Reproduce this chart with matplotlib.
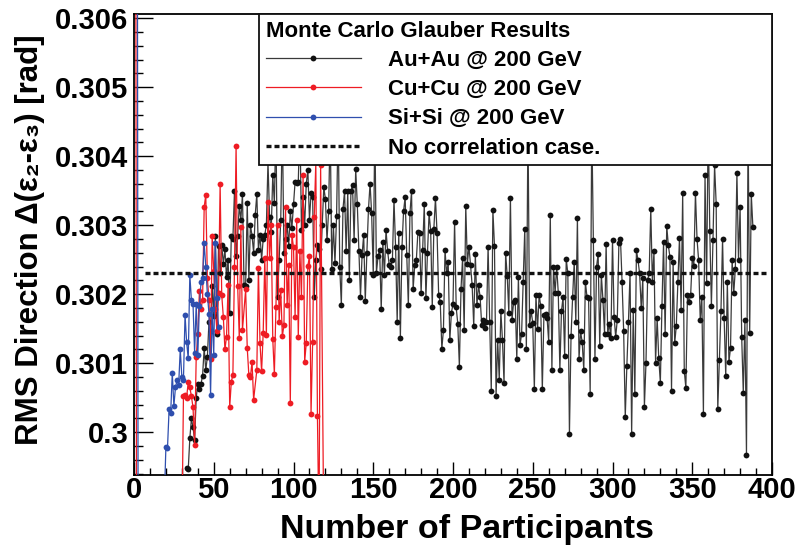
import numpy as np
import matplotlib
matplotlib.use('Agg')
import matplotlib.pyplot as plt
from matplotlib.ticker import MultipleLocator, FuncFormatter

plt.rcParams['font.family'] = ['Liberation Sans', 'DejaVu Sans']
plt.rcParams['font.weight'] = 'bold'

# ---------------- data ----------------
# Au+Au @ 200 GeV : segments of consecutive Npart values
au_seg1_start = 33
au_seg1 = [0.29948, 0.29946, 0.29991, 0.30020, 0.30007, 0.29989, 0.30050, 0.30070, 0.30063, 0.30070,
           0.30082, 0.30122, 0.30090, 0.30109, 0.30160, 0.30146, 0.30212, 0.30168, 0.30284, 0.30142,
           0.30270, 0.30230, 0.30271, 0.30244, 0.30265, 0.30225, 0.30250, 0.30173, 0.30285, 0.30280,
           0.30350, 0.30255, 0.30285, 0.30328, 0.30308, 0.30345, 0.30213, 0.30212, 0.30332, 0.30220,
           0.30300, 0.30285, 0.30260, 0.30315, 0.30345, 0.30264, 0.30286, 0.30250, 0.30280, 0.30286,
           0.30300, 0.30392, 0.30312, 0.30290, 0.30373, 0.30332, 0.30450, 0.30196, 0.30250, 0.30308,
           0.30450, 0.30260, 0.30280, 0.30300, 0.30270, 0.30320, 0.30296, 0.30330, 0.30363, 0.30361,
           0.30363, 0.30450, 0.30293, 0.30341, 0.30300, 0.30360, 0.30380, 0.30308, 0.30346, 0.30341,
           0.30196, 0.30250, 0.30271, 0.30266, 0.30237, 0.30300, 0.30355, 0.30338, 0.30278, 0.30320]
au_seg2_start = 123
au_seg2 = [0.30450, 0.30236, 0.30300, 0.30245, 0.30313, 0.30450, 0.30239, 0.30184, 0.30323, 0.30349,
           0.30262, 0.30349, 0.30221, 0.30349, 0.30358, 0.30278, 0.30381, 0.30330, 0.30263, 0.30196,
           0.30257, 0.30286, 0.30190, 0.30260, 0.30323, 0.30360, 0.30317, 0.30228, 0.30450, 0.30231,
           0.30255, 0.30264, 0.30178, 0.30275, 0.30228, 0.30293, 0.30263, 0.30242, 0.30240, 0.30249,
           0.30337, 0.30268, 0.30160, 0.30288, 0.30136, 0.30268, 0.30320, 0.30341, 0.30257, 0.30184,
           0.30317, 0.30349]
au_seg3_start = 175
au_seg3 = [0.30207, 0.30242, 0.30249, 0.30290, 0.30288, 0.30201, 0.30264, 0.30331, 0.30194, 0.30260,
           0.30317, 0.30292, 0.30181, 0.30295, 0.30339, 0.30289, 0.30199, 0.30189, 0.30121, 0.30148,
           0.30264, 0.30230, 0.30246, 0.30133, 0.30173, 0.30186, 0.30305, 0.30181, 0.30157, 0.30095,
           0.30207, 0.30252, 0.30148, 0.30328, 0.30244, 0.30269, 0.30242, 0.30213, 0.30154]
au_seg4_start = 214
au_seg4 = [0.30258, 0.30184, 0.30213, 0.30196, 0.30155, 0.30163, 0.30151, 0.30160, 0.30269, 0.30160,
           0.30059, 0.30322, 0.30270, 0.30052, 0.30134, 0.30076, 0.30175, 0.30134, 0.30071, 0.30260,
           0.30226, 0.30173, 0.30340, 0.30163, 0.30188, 0.30191, 0.30106, 0.30225, 0.30126, 0.30142,
           0.30217, 0.30295, 0.30120, 0.30450, 0.30155, 0.30176, 0.30158, 0.30062, 0.30199, 0.30149,
           0.30199, 0.30183, 0.30062, 0.30170, 0.30172, 0.30165, 0.30131, 0.30315, 0.30090, 0.30240,
           0.30202, 0.30240, 0.30202, 0.30090, 0.30175, 0.30196, 0.30110, 0.30251, 0.30230, 0.29997,
           0.30139, 0.30196, 0.30247, 0.30160, 0.30310, 0.30106, 0.30146, 0.30130, 0.30090, 0.30218,
           0.30196, 0.30194, 0.30056, 0.30450, 0.30278, 0.30106, 0.30240, 0.30258, 0.30125, 0.30228,
           0.30192, 0.30143, 0.30273, 0.30143, 0.30157, 0.30136, 0.30279, 0.30167, 0.30138, 0.30163,
           0.30274]
au_seg5_start = 305
au_seg5 = [0.30280, 0.30218, 0.30146, 0.30022, 0.30096, 0.30160, 0.30231, 0.29997, 0.30177, 0.30055,
           0.30264, 0.30249, 0.30230, 0.30180, 0.30223, 0.30037, 0.30101, 0.30221, 0.30230, 0.30324,
           0.30217, 0.30262, 0.30101, 0.30165, 0.30107, 0.30072, 0.30183, 0.30275, 0.30142, 0.30299,
           0.30271, 0.30254, 0.30060, 0.30246, 0.30129, 0.30154, 0.30217, 0.30282, 0.30177, 0.30346,
           0.30089, 0.30064, 0.30199, 0.30189, 0.30199, 0.30252, 0.30241, 0.30347, 0.30280, 0.30249,
           0.30163, 0.30196, 0.30026, 0.30373, 0.30216, 0.30450, 0.30291, 0.30183, 0.30279, 0.30387,
           0.30331, 0.30033, 0.30105, 0.30176, 0.30280, 0.30165, 0.30081, 0.30217, 0.30102, 0.30122,
           0.30250, 0.30201, 0.30236, 0.30376, 0.30250, 0.30326, 0.30138, 0.30057, 0.30162, 0.29967,
           0.30450, 0.30144, 0.30345, 0.30298]

# Cu+Cu @ 200 GeV
cu_npart = [1, 2, 30] + list(range(31, 69)) + list(range(70, 76)) + list(range(77, 118)) + [119]
cu_vals = [0.31000, 0.29000, 0.29850,
           0.30052, 0.30054, 0.30050, 0.30073, 0.30065, 0.30052, 0.30036, 0.29982, 0.30109, 0.30142,
           0.30204, 0.30178, 0.30192, 0.30326, 0.30344, 0.30223, 0.30192, 0.30106, 0.30284, 0.30233,
           0.30178, 0.30146, 0.30201, 0.30360, 0.30199, 0.30167, 0.30120, 0.30138, 0.30213, 0.30036,
           0.30073, 0.30083, 0.30240, 0.30415, 0.30212, 0.30136, 0.30297, 0.30148,
           0.30207, 0.30122, 0.30083, 0.30080, 0.30102, 0.30047,
           0.30090, 0.30238, 0.30129, 0.30088, 0.30144, 0.30253, 0.30141, 0.30333, 0.30252, 0.30300,
           0.30135, 0.30084, 0.30182, 0.30300, 0.30160, 0.30206, 0.30139, 0.30155, 0.30326, 0.30184,
           0.30242, 0.30042, 0.30286, 0.30268, 0.30167, 0.30307, 0.30138, 0.30262, 0.30196, 0.30373,
           0.30102, 0.30129, 0.30241, 0.30255, 0.30027, 0.30131, 0.30312, 0.30392, 0.30024, 0.29850,
           0.30387,
           0.29850]

# Si+Si @ 200 GeV
si_npart = [2, 3, 19] + list(range(20, 54))
si_vals = [0.31000, 0.29000, 0.29900,
           0.29979, 0.29977, 0.30033, 0.30028, 0.30086, 0.30038, 0.30065, 0.30075, 0.30069, 0.30120,
           0.30080, 0.30076, 0.30170, 0.30130, 0.30107, 0.30228, 0.30191, 0.30186, 0.30115, 0.30186,
           0.30112, 0.30183, 0.30217, 0.30224, 0.30274, 0.30240, 0.30200, 0.30172, 0.30054, 0.30178,
           0.30112, 0.30274, 0.30194, 0.30152]

nocorr_value = 0.3023
nocorr_range = [7, 397]

labels = ['Au+Au @ 200 GeV', 'Cu+Cu @ 200 GeV', 'Si+Si @ 200 GeV', 'No correlation case.']
legend_title = 'Monte Carlo Glauber Results'

au_npart = np.concatenate([np.arange(s, s + len(v)) for s, v in
                           [(au_seg1_start, au_seg1), (au_seg2_start, au_seg2), (au_seg3_start, au_seg3),
                            (au_seg4_start, au_seg4), (au_seg5_start, au_seg5)]])
au_vals = np.concatenate([au_seg1, au_seg2, au_seg3, au_seg4, au_seg5])

# ---------------- figure ----------------
W, H = 795, 545
fig = plt.figure(figsize=(W / 100, H / 100), dpi=100)
ax = fig.add_axes([134 / W, 70 / H, 638 / W, 461 / H])

RED = '#ee1c24'
BLUE = '#2f4fae'

l_au, = ax.plot(au_npart, au_vals, '-', color='#3a3a3a', lw=0.9, marker='o', ms=4.2,
                mfc='#111111', mec='#111111', mew=0, zorder=3)
l_cu, = ax.plot(cu_npart, cu_vals, '-', color=RED, lw=0.9, marker='o', ms=4.2,
                mfc=RED, mec=RED, mew=0, zorder=4)
l_si, = ax.plot(si_npart, si_vals, '-', color=BLUE, lw=0.9, marker='o', ms=4.2,
                mfc=BLUE, mec=BLUE, mew=0, zorder=5)
l_nc, = ax.plot(nocorr_range, [nocorr_value, nocorr_value], color='#111111', lw=2.4,
                dashes=(1.5, 0.9), zorder=6)

ax.set_xlim(0, 400)
ax.set_ylim(0.29938, 0.30606)

ax.xaxis.set_major_locator(MultipleLocator(50))
ax.xaxis.set_minor_locator(MultipleLocator(10))
ax.yaxis.set_major_locator(MultipleLocator(0.001))
ax.yaxis.set_minor_locator(MultipleLocator(0.0002))
ax.yaxis.set_major_formatter(FuncFormatter(lambda v, p: f'{round(v, 4):g}'))

ax.tick_params(axis='x', which='major', direction='in', length=9.5, width=1.0, labelsize=21, pad=1)
ax.tick_params(axis='x', which='minor', direction='in', length=5, width=1.0)
ax.tick_params(axis='y', which='major', direction='in', length=13.5, width=1.0, labelsize=21, pad=4)
ax.tick_params(axis='y', which='minor', direction='in', length=6.5, width=1.0)
for lab in ax.get_xticklabels() + ax.get_yticklabels():
    lab.set_fontweight('bold')
for sp in ax.spines.values():
    sp.set_linewidth(1.3)

fig.text(467 / W, 7 / H, 'Number of Participants', ha='center', va='baseline',
         fontsize=24.5, fontweight='bold')
fig.text(30 / W, (H - 240) / H, 'RMS Direction \u0394(\u03b5\u2082-\u03b5\u2083) [rad]',
         rotation=90, ha='center', va='center', fontsize=22.5, fontweight='bold')

leg = ax.legend([l_au, l_cu, l_si, l_nc], labels, title=legend_title,
                loc='upper left', bbox_to_anchor=((259 - 134) / 638, 0.0, (772 - 259) / 638, 1.0),
                mode='expand', borderaxespad=0, borderpad=0.3, labelspacing=0.37,
                handlelength=4.3, handletextpad=1.2, numpoints=1, fancybox=False,
                framealpha=1, edgecolor='#111111', facecolor='white',
                prop={'size': 16, 'weight': 'bold'},
                title_fontproperties={'size': 16, 'weight': 'bold'}, alignment='left')
leg.get_frame().set_linewidth(1.3)
leg.set_zorder(20)

fig.savefig('out.png', dpi=100)
